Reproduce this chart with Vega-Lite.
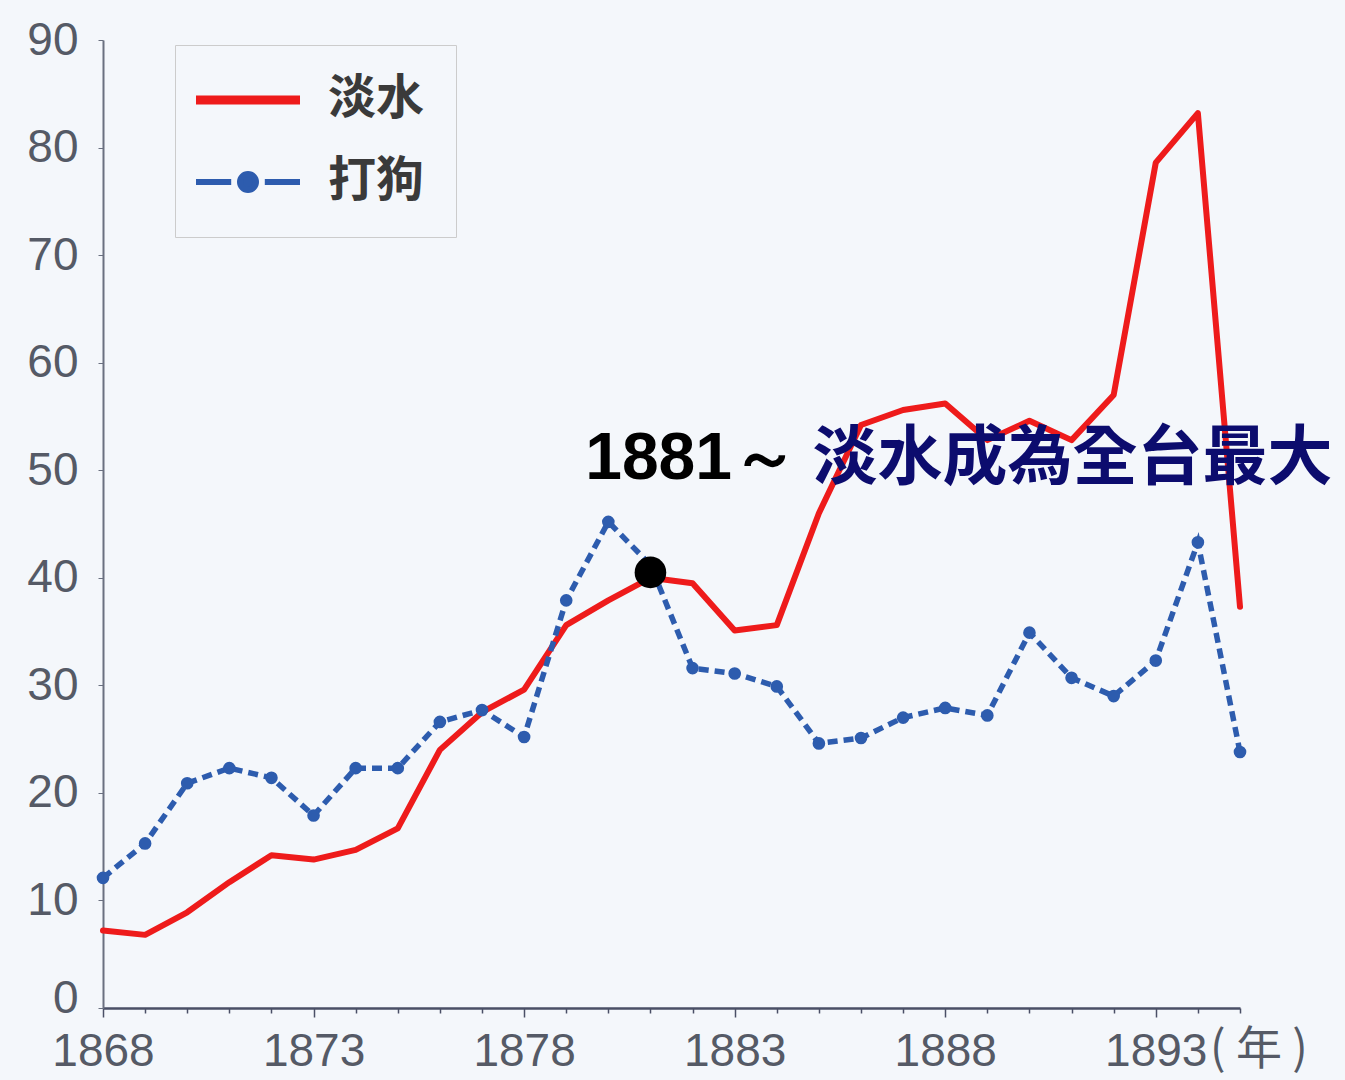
{
  "$schema": "https://vega.github.io/schema/vega-lite/v6.json",
  "width": 1137,
  "height": 968,
  "autosize": {"type": "none"},
  "padding": {"left": 103, "top": 40, "right": 105, "bottom": 72},
  "background": "#f4f7fb",
  "config": {"view": {"stroke": null}, "font": "Liberation Sans"},
  "datasets": {
    "series": [
      {"year": 1868, "city": "淡水", "value": 7.2},
      {"year": 1869, "city": "淡水", "value": 6.8},
      {"year": 1870, "city": "淡水", "value": 8.9},
      {"year": 1871, "city": "淡水", "value": 11.7},
      {"year": 1872, "city": "淡水", "value": 14.2},
      {"year": 1873, "city": "淡水", "value": 13.8},
      {"year": 1874, "city": "淡水", "value": 14.7},
      {"year": 1875, "city": "淡水", "value": 16.7},
      {"year": 1876, "city": "淡水", "value": 24.0},
      {"year": 1877, "city": "淡水", "value": 27.5},
      {"year": 1878, "city": "淡水", "value": 29.6},
      {"year": 1879, "city": "淡水", "value": 35.6},
      {"year": 1880, "city": "淡水", "value": 37.9},
      {"year": 1881, "city": "淡水", "value": 40.0},
      {"year": 1882, "city": "淡水", "value": 39.5},
      {"year": 1883, "city": "淡水", "value": 35.1},
      {"year": 1884, "city": "淡水", "value": 35.6},
      {"year": 1885, "city": "淡水", "value": 46.0},
      {"year": 1886, "city": "淡水", "value": 54.2},
      {"year": 1887, "city": "淡水", "value": 55.6},
      {"year": 1888, "city": "淡水", "value": 56.2},
      {"year": 1889, "city": "淡水", "value": 52.8},
      {"year": 1890, "city": "淡水", "value": 54.6},
      {"year": 1891, "city": "淡水", "value": 52.8},
      {"year": 1892, "city": "淡水", "value": 57.0},
      {"year": 1893, "city": "淡水", "value": 78.6},
      {"year": 1894, "city": "淡水", "value": 83.2},
      {"year": 1895, "city": "淡水", "value": 37.3},
      {"year": 1868, "city": "打狗", "value": 12.1},
      {"year": 1869, "city": "打狗", "value": 15.3},
      {"year": 1870, "city": "打狗", "value": 20.9},
      {"year": 1871, "city": "打狗", "value": 22.3},
      {"year": 1872, "city": "打狗", "value": 21.4},
      {"year": 1873, "city": "打狗", "value": 17.9},
      {"year": 1874, "city": "打狗", "value": 22.3},
      {"year": 1875, "city": "打狗", "value": 22.3},
      {"year": 1876, "city": "打狗", "value": 26.6},
      {"year": 1877, "city": "打狗", "value": 27.7},
      {"year": 1878, "city": "打狗", "value": 25.2},
      {"year": 1879, "city": "打狗", "value": 37.9},
      {"year": 1880, "city": "打狗", "value": 45.2},
      {"year": 1881, "city": "打狗", "value": 41.2},
      {"year": 1882, "city": "打狗", "value": 31.6},
      {"year": 1883, "city": "打狗", "value": 31.1},
      {"year": 1884, "city": "打狗", "value": 29.9},
      {"year": 1885, "city": "打狗", "value": 24.6},
      {"year": 1886, "city": "打狗", "value": 25.1},
      {"year": 1887, "city": "打狗", "value": 27.0},
      {"year": 1888, "city": "打狗", "value": 27.9},
      {"year": 1889, "city": "打狗", "value": 27.2},
      {"year": 1890, "city": "打狗", "value": 34.9},
      {"year": 1891, "city": "打狗", "value": 30.7},
      {"year": 1892, "city": "打狗", "value": 29.0},
      {"year": 1893, "city": "打狗", "value": 32.3},
      {"year": 1894, "city": "打狗", "value": 43.3},
      {"year": 1895, "city": "打狗", "value": 23.8}
    ],
    "note": [
      {"part": "dot", "year": 1881, "value": 40.5, "label": ""},
      {"part": "year", "year": 1879.45, "value": 49.2, "label": "1881～"},
      {"part": "cjk", "year": 1884.85, "value": 49.2, "label": "淡水成為全台最大"},
      {"part": "unit", "year": 1895.45, "value": 0, "label": "( 年 )"}
    ]
  },
  "layer": [
    {
      "data": {"name": "series"},
      "transform": [{"filter": "datum.city == '淡水'"}],
      "mark": {"type": "line", "strokeWidth": 6, "strokeJoin": "round", "strokeCap": "round"},
      "encoding": {
        "x": {
          "field": "year", "type": "quantitative",
          "scale": {"domain": [1868, 1895], "nice": false, "zero": false},
          "axis": {
            "title": null,
            "values": [1868,1869,1870,1871,1872,1873,1874,1875,1876,1877,1878,1879,1880,1881,1882,1883,1884,1885,1886,1887,1888,1889,1890,1891,1892,1893,1894,1895],
            "format": "d",
            "labelExpr": "(datum.value - 1868) % 5 == 0 && datum.value <= 1893 ? datum.label : ''",
            "labelOverlap": false,
            "labelFlush": false,
            "labelFontSize": 46,
            "labelColor": "#555a66",
            "labelPadding": 12,
            "domainColor": "#4a4f66",
            "domainWidth": 2.5,
            "tickColor": "#4a4f66",
            "tickWidth": 1.5,
            "tickSize": {"condition": {"test": "(datum.value - 1868) % 5 == 0", "value": 9}, "value": 5},
            "grid": false
          }
        },
        "y": {
          "field": "value", "type": "quantitative",
          "scale": {"domain": [0, 90], "nice": false},
          "axis": {
            "title": null,
            "values": [0,10,20,30,40,50,60,70,80,90],
            "labelFontSize": 46,
            "labelColor": "#555a66",
            "labelPadding": 20,
            "labelOffset": {"condition": {"test": "datum.value == 0", "value": -10}, "value": 0},
            "domainColor": "#6a7080",
            "domainWidth": 2,
            "tickColor": "#6a7080",
            "tickSize": 5,
            "grid": false
          }
        },
        "color": {
          "field": "city", "type": "nominal",
          "scale": {"domain": ["淡水", "打狗"], "range": ["#ee1b1b", "#2d5cae"]},
          "legend": {
            "orient": "none", "legendX": 72, "legendY": 5,
            "title": null,
            "symbolSize": 6400,
            "symbolStrokeWidth": 6,
            "labelFontSize": 48,
            "labelFont": "Noto Sans CJK TC",
            "labelFontWeight": "bold",
            "labelColor": "#3a3a3a",
            "labelOffset": 74,
            "rowPadding": 34,
            "padding": 31,
            "strokeColor": "#cccccc",
            "encode": {
              "symbols": {
                "update": {
                  "shape": {"signal": "datum.value === '打狗' ? 'M-0.85,0H0.03M0.87,0H1.75M0.65,0A0.2,0.2,0,1,1,0.25,0A0.2,0.2,0,1,1,0.65,0' : 'M-0.85,0H1.75'"},
                  "fill": {"signal": "datum.value === '打狗' ? '#2d5cae' : 'transparent'"},
                  "strokeWidth": {"signal": "datum.value === '打狗' ? 6 : 9"}
                }
              }
            }
          }
        }
      }
    },
    {
      "data": {"name": "series"},
      "transform": [{"filter": "datum.city == '打狗'"}],
      "mark": {"type": "line", "strokeWidth": 5.5, "strokeDash": [10, 6]},
      "encoding": {
        "x": {"field": "year", "type": "quantitative"},
        "y": {"field": "value", "type": "quantitative"},
        "color": {"field": "city", "type": "nominal"}
      }
    },
    {
      "data": {"name": "series"},
      "transform": [{"filter": "datum.city == '打狗'"}],
      "mark": {"type": "point", "filled": true, "shape": "circle", "size": 160, "opacity": 1, "color": "#2d5cae"},
      "encoding": {
        "x": {"field": "year", "type": "quantitative"},
        "y": {"field": "value", "type": "quantitative"}
      }
    },
    {
      "data": {"name": "note"},
      "transform": [{"filter": "datum.part == 'dot'"}],
      "mark": {"type": "point", "filled": true, "shape": "circle", "size": 1000, "opacity": 1, "color": "#000000"},
      "encoding": {
        "x": {"field": "year", "type": "quantitative"},
        "y": {"field": "value", "type": "quantitative"}
      }
    },
    {
      "data": {"name": "note"},
      "transform": [{"filter": "datum.part == 'year'"}],
      "mark": {"type": "text", "align": "left", "baseline": "alphabetic", "fontSize": 66, "fontWeight": "bold", "font": "Liberation Sans", "color": "#000000"},
      "encoding": {
        "x": {"field": "year", "type": "quantitative"},
        "y": {"field": "value", "type": "quantitative"},
        "text": {"field": "label"}
      }
    },
    {
      "data": {"name": "note"},
      "transform": [{"filter": "datum.part == 'cjk'"}],
      "mark": {"type": "text", "align": "left", "baseline": "alphabetic", "fontSize": 65, "fontWeight": "bold", "font": "Noto Sans CJK TC", "color": "#0c0c6e"},
      "encoding": {
        "x": {"field": "year", "type": "quantitative"},
        "y": {"field": "value", "type": "quantitative"},
        "text": {"field": "label"}
      }
    },
    {
      "data": {"name": "note"},
      "transform": [{"filter": "datum.part == 'unit'"}],
      "mark": {"type": "text", "align": "center", "baseline": "middle", "dy": 42, "fontSize": 46, "font": "Noto Sans CJK TC", "color": "#555a66"},
      "encoding": {
        "x": {"field": "year", "type": "quantitative"},
        "y": {"field": "value", "type": "quantitative"},
        "text": {"field": "label"}
      }
    }
  ]
}
